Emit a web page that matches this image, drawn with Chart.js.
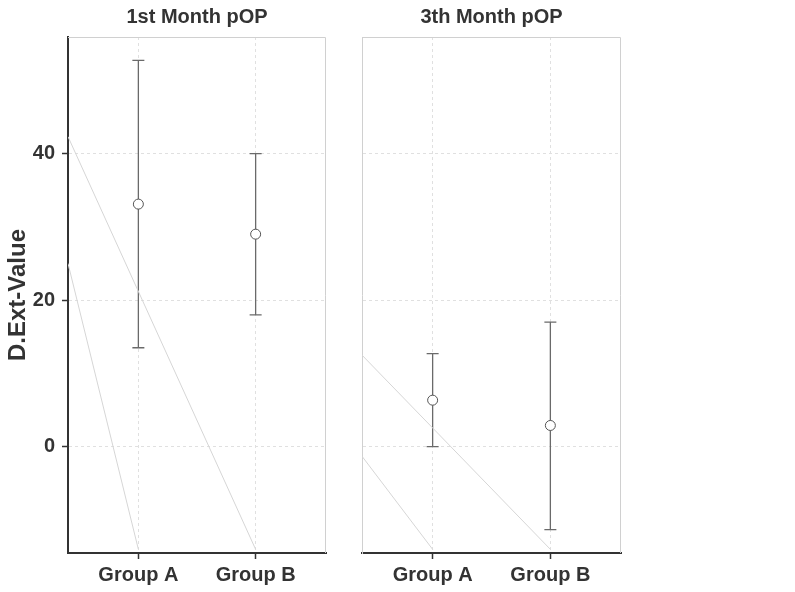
<!DOCTYPE html>
<html>
<head>
<meta charset="utf-8">
<script src="https://cdn.jsdelivr.net/npm/chart.js@4.4.1/dist/chart.umd.min.js"></script>
<style>
  html, body { margin: 0; padding: 0; background: #fff; }
  #wrap { position: relative; width: 795px; height: 592px; }
  canvas { position: absolute; top: 0; }
</style>
</head>
<body>
<div id="wrap">
  <canvas id="panel1" width="340" height="592" style="left:0"></canvas>
  <canvas id="panel3" width="300" height="592" style="left:340px"></canvas>
</div>
<script>
// Datos
const groups = ['Group A', 'Group B'];
const groupPos = [1, 2];
const yTicks = [0, 20, 40];
const yRange = [-14.5, 55.9];
const xRange = [0.4, 2.6];

const month1Mean = [33.1, 29.0];
const month1Low = [13.5, 18.0];
const month1High = [52.7, 40.0];

const month3Mean = [6.35, 2.9];
const month3Low = [0.0, -11.3];
const month3High = [12.7, 17.0];

// líneas grises diagonales de cada panel (x en unidades de grupo)
const month1LineX = [[0.4, 2], [0.4, 1]];
const month1LineY = [[42.3, -14.0], [25.0, -14.0]];
const month3LineX = [[0.4, 2], [0.4, 1]];
const month3LineY = [[12.5, -14.0], [-1.3, -14.0]];

const FONT = "'Liberation Sans', Arial, sans-serif";
const TEXTO = '#333333';
const GRIS_BORDE = '#d0d0d0';
const GRIS_REJILLA = '#e0e0e0';

function crearPlugin(titulo, bajo, alto) {
    return {
        id: 'panelExtra',
        beforeDatasetsDraw(chart) {
            const { ctx, chartArea: a, scales: { x, y } } = chart;
            ctx.save();
            // borde gris arriba y a la derecha
            ctx.strokeStyle = GRIS_BORDE;
            ctx.lineWidth = 1;
            ctx.beginPath();
            ctx.moveTo(a.left, a.top + 0.5);
            ctx.lineTo(a.right - 0.5, a.top + 0.5);
            ctx.lineTo(a.right - 0.5, a.bottom);
            ctx.stroke();
            // barras de error
            ctx.strokeStyle = '#6a6a6a';
            ctx.lineWidth = 1.3;
            bajo.forEach((lo, i) => {
                const px = x.getPixelForValue(groupPos[i]);
                const y1 = y.getPixelForValue(lo);
                const y2 = y.getPixelForValue(alto[i]);
                ctx.beginPath();
                ctx.moveTo(px, y1); ctx.lineTo(px, y2);
                ctx.moveTo(px - 6, y1); ctx.lineTo(px + 6, y1);
                ctx.moveTo(px - 6, y2); ctx.lineTo(px + 6, y2);
                ctx.stroke();
            });
            ctx.restore();
        },
        afterDraw(chart) {
            const { ctx, chartArea: a } = chart;
            ctx.save();
            ctx.font = 'bold 20px ' + FONT;
            ctx.fillStyle = TEXTO;
            ctx.textAlign = 'center';
            ctx.textBaseline = 'middle';
            ctx.fillText(titulo, (a.left + a.right) / 2, 17);
            ctx.restore();
        }
    };
}

function crearPanel(id, titulo, media, bajo, alto, lineX, lineY, conEjeY) {
    const lineas = lineX.map((xs, k) => ({
        data: xs.map((v, i) => ({ x: v, y: lineY[k][i] })),
        showLine: true,
        borderColor: '#d6d6d6',
        borderWidth: 1,
        pointRadius: 0
    }));

    const ejeY = {
        type: 'linear',
        min: yRange[0],
        max: yRange[1],
        afterBuildTicks: s => { s.ticks = yTicks.map(v => ({ value: v })); },
        grid: { color: GRIS_REJILLA, tickColor: TEXTO, tickLength: 6, tickWidth: 1.5, drawTicks: conEjeY },
        border: conEjeY ? { color: TEXTO, width: 2, dash: [3, 3] } : { color: GRIS_BORDE, width: 1, dash: [3, 3] },
        ticks: { display: conEjeY, color: TEXTO, padding: 7, font: { family: FONT, size: 20, weight: 'bold' } },
        title: {
            display: conEjeY,
            text: 'D.Ext-Value',
            color: TEXTO,
            padding: { top: 4, bottom: 4 },
            font: { family: FONT, size: 24, weight: 'bold' }
        },
        afterFit: s => { s.width = conEjeY ? 68 : 0; }
    };

    return new Chart(document.getElementById(id), {
        type: 'scatter',
        data: {
            datasets: [{
                data: media.map((v, i) => ({ x: groupPos[i], y: v })),
                pointRadius: 5,
                pointBackgroundColor: '#ffffff',
                pointBorderColor: '#555555',
                pointBorderWidth: 1
            }].concat(lineas)
        },
        options: {
            responsive: false,
            animation: false,
            layout: { padding: { top: 37, bottom: 0, left: conEjeY ? 0 : 22, right: conEjeY ? 14 : 19 } },
            scales: {
                x: {
                    type: 'linear',
                    min: xRange[0],
                    max: xRange[1],
                    afterBuildTicks: s => { s.ticks = groupPos.map(v => ({ value: v })); },
                    grid: { color: GRIS_REJILLA, tickColor: TEXTO, tickLength: 6, tickWidth: 1.5 },
                    border: { color: TEXTO, width: 2, dash: [3, 3] },
                    ticks: {
                        callback: v => groups[groupPos.indexOf(v)],
                        color: TEXTO,
                        padding: 4,
                        maxRotation: 0,
                        autoSkip: false,
                        font: { family: FONT, size: 20, weight: 'bold' }
                    },
                    afterFit: s => { s.height = 39; }
                },
                y: ejeY
            },
            plugins: {
                legend: { display: false },
                tooltip: { enabled: false }
            }
        },
        plugins: [crearPlugin(titulo, bajo, alto)]
    });
}

crearPanel('panel1', '1st Month pOP', month1Mean, month1Low, month1High, month1LineX, month1LineY, true);
crearPanel('panel3', '3th Month pOP', month3Mean, month3Low, month3High, month3LineX, month3LineY, false);
</script>
</body>
</html>
